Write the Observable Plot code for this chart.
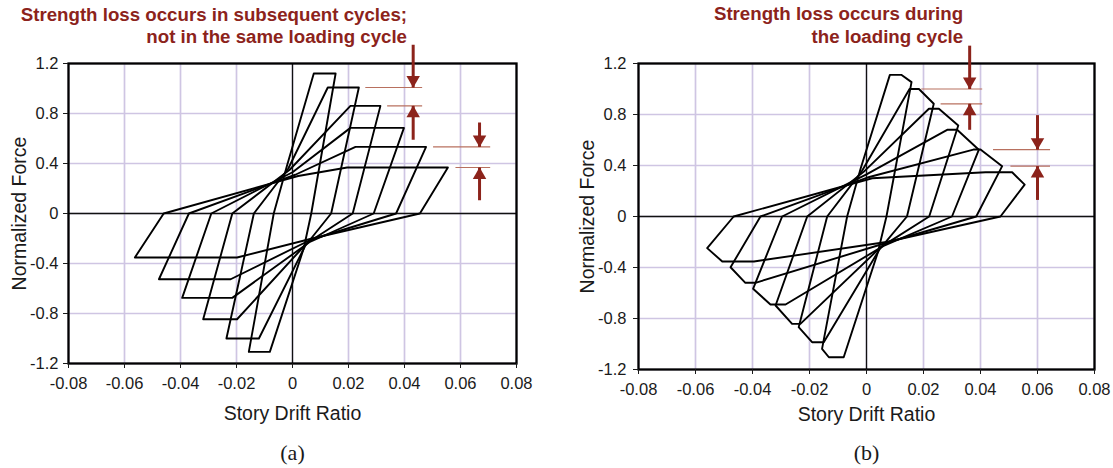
<!DOCTYPE html>
<html>
<head>
<meta charset="utf-8">
<script src="https://cdn.jsdelivr.net/npm/d3@7"></script>
<script src="https://cdn.jsdelivr.net/npm/@observablehq/plot@0.6"></script>
<style>
  body { margin: 0; background: #fff; }
  #wrap { position: relative; width: 1113px; height: 468px; overflow: hidden; background: #fff; }
  #wrap svg { position: absolute; top: 0; }
</style>
</head>
<body>
<div id="wrap"></div>
<script>
// Axis ticks shared by both panels
const xTicks = [-0.08, -0.06, -0.04, -0.02, 0, 0.02, 0.04, 0.06, 0.08];
const yTicks = [-1.2, -0.8, -0.4, 0, 0.4, 0.8, 1.2];
const cycles = [1, 2, 3, 4, 5, 6];

// (a) Cyclic strength degradation.
// Vertices of each cycle: neg. zero-force point, pinch, peak start, peak end,
// pos. zero-force point, pinch, neg. peak start, neg. peak end.
const driftA = [
  [-0.0067, -0.0020, 0.0076, 0.0154, 0.0067, 0.0040, -0.0081, -0.0156],
  [-0.0138, -0.0015, 0.0126, 0.0237, 0.0138, 0.0045, -0.0120, -0.0236],
  [-0.0215, -0.0010, 0.0207, 0.0314, 0.0215, 0.0050, -0.0198, -0.0319],
  [-0.0290,  0.0000, 0.0207, 0.0398, 0.0290, 0.0060, -0.0215, -0.0394],
  [-0.0370,  0.0010, 0.0225, 0.0477, 0.0370, 0.0065, -0.0221, -0.0477],
  [-0.0460,  0.0020, 0.0195, 0.0555, 0.0455, 0.0070, -0.0198, -0.0563]
];
const forceA = [
  [0, 0.38, 1.120, 1.120, 0, -0.28, -1.107, -1.107],
  [0, 0.36, 1.008, 1.008, 0, -0.26, -1.000, -1.000],
  [0, 0.35, 0.861, 0.861, 0, -0.24, -0.846, -0.846],
  [0, 0.33, 0.685, 0.685, 0, -0.23, -0.675, -0.675],
  [0, 0.31, 0.533, 0.533, 0, -0.21, -0.526, -0.526],
  [0, 0.30, 0.368, 0.368, 0, -0.20, -0.352, -0.352]
];

// (b) In-cycle strength degradation: the peak is followed by a falling branch.
const driftB = [
  [-0.0068, -0.0020, 0.0082, 0.0122, 0.0158, 0.0070, 0.0040, -0.0080, -0.0132, -0.0156],
  [-0.0138, -0.0015, 0.0151, 0.0184, 0.0236, 0.0142, 0.0045, -0.0150, -0.0191, -0.0238],
  [-0.0208, -0.0010, 0.0219, 0.0254, 0.0322, 0.0220, 0.0050, -0.0232, -0.0261, -0.0319],
  [-0.0296,  0.0000, 0.0283, 0.0318, 0.0394, 0.0300, 0.0060, -0.0284, -0.0337, -0.0398],
  [-0.0372,  0.0010, 0.0375, 0.0400, 0.0476, 0.0385, 0.0065, -0.0390, -0.0425, -0.0477],
  [-0.0466,  0.0020, 0.0418, 0.0511, 0.0555, 0.0470, 0.0070, -0.0395, -0.0506, -0.0559]
];
const forceB = [
  [0, 0.38, 1.111, 1.111, 1.054, 0, -0.28, -1.104, -1.104, -1.038],
  [0, 0.36, 1.000, 1.000, 0.884, 0, -0.26, -0.986, -0.986, -0.868],
  [0, 0.35, 0.845, 0.845, 0.714, 0, -0.24, -0.842, -0.842, -0.698],
  [0, 0.33, 0.680, 0.680, 0.523, 0, -0.23, -0.690, -0.690, -0.567],
  [0, 0.31, 0.525, 0.525, 0.395, 0, -0.21, -0.520, -0.520, -0.398],
  [0, 0.30, 0.347, 0.347, 0.250, 0, -0.20, -0.353, -0.353, -0.248]
];

// Strength-loss markers: level lines and arrows pointing at them
const lossLevelsA = [1.008, 0.861, 0.533, 0.368];
const lossFromA   = [0.0260, 0.0338, 0.0502, 0.0582];
const lossToA     = [0.0463, 0.0463, 0.0706, 0.0706];
const arrowXA     = [0.0431, 0.0431, 0.0668, 0.0668];
const arrowTailA  = [1.35, 0.59, 0.728, 0.106];

const lossLevelsB = [1.000, 0.884, 0.525, 0.395];
const lossFromB   = [0.0192, 0.0260, 0.0444, 0.0505];
const lossToB     = [0.0406, 0.0406, 0.0644, 0.0644];
const arrowXB     = [0.0362, 0.0362, 0.0600, 0.0600];
const arrowTailB  = [1.34, 0.68, 0.795, 0.13];

const noteA = ["Strength loss occurs in subsequent cycles;", "not in the same loading cycle"];
const noteB = ["Strength loss occurs during", "the loading cycle"];

const darkRed = "#8c231b";
const fmt = d => String(+d.toFixed(2));

function loopRows(drift, force) {
  const rows = [];
  cycles.forEach((c, k) => {
    const xs = drift[k], ys = force[k];
    for (let j = 0; j <= xs.length; j++) {
      const i = j % xs.length;
      rows.push({cycle: c, drift: xs[i], force: ys[i]});
    }
  });
  return rows;
}

function panel(o) {
  const idx = o.levels.map((_, i) => i);
  const down = idx.filter(i => o.tail[i] > o.levels[i]);
  const up = idx.filter(i => o.tail[i] < o.levels[i]);
  return Plot.plot({
    width: o.width,
    height: 468,
    marginLeft: o.mLeft,
    marginRight: o.mRight,
    marginTop: 63,
    marginBottom: o.mBottom,
    x: {domain: [-0.08, 0.08]},
    y: {domain: [-1.2, 1.2]},
    style: {fontFamily: "'Liberation Sans', Arial, sans-serif", fontSize: "16.5px", color: "#1a1a1a", background: "transparent", overflow: "visible"},
    marks: [
      Plot.gridX(xTicks, {stroke: "#cfc5e3", strokeOpacity: 1, strokeWidth: 1.7}),
      Plot.gridY(yTicks, {stroke: "#cfc5e3", strokeOpacity: 1, strokeWidth: 1.7}),
      Plot.ruleX([0], {stroke: "#111", strokeWidth: 1.3}),
      Plot.ruleY([0], {stroke: "#111", strokeWidth: 1.3}),
      Plot.line(loopRows(o.drift, o.force), {x: "drift", y: "force", z: "cycle", stroke: "#000", strokeWidth: 1.9, strokeLinejoin: "round"}),
      Plot.frame({stroke: "#000", strokeWidth: 2.3}),
      Plot.axisX(xTicks, {tickSize: 5, tickPadding: 9, tickFormat: fmt, label: null}),
      Plot.axisY(yTicks, {tickSize: 5, tickPadding: o.yPad, tickFormat: fmt, label: null}),
      Plot.text(["Story Drift Ratio"], {x: 0, frameAnchor: "bottom", lineAnchor: "middle", dy: o.titleDy, fontSize: 19.5}),
      Plot.text(["Normalized Force"], {y: 0, frameAnchor: "left", textAnchor: "middle", lineAnchor: "middle", dx: o.yTitleDx, rotate: -90, fontSize: 19.5}),
      Plot.text([o.caption], {x: 0, frameAnchor: "bottom", lineAnchor: "middle", dy: o.captionDy, fontSize: 22, fontFamily: "'Liberation Serif', 'DejaVu Serif', serif"}),
      Plot.text(o.note, {x: o.noteX, y: (d, i) => 1.59 - i * 0.18, textAnchor: "end", lineAnchor: "middle", fontWeight: "bold", fontSize: 18.7, fill: darkRed}),
      Plot.link(idx, {x1: i => o.from[i], x2: i => o.to[i], y1: i => o.levels[i], y2: i => o.levels[i], stroke: "#b8705f", strokeWidth: 1.2}),
      Plot.link(idx, {x1: i => o.arrowX[i], x2: i => o.arrowX[i], y1: i => o.tail[i], y2: i => o.levels[i], stroke: darkRed, strokeWidth: 3}),
      Plot.dot(down, {x: i => o.arrowX[i], y: i => o.levels[i], symbol: "triangle", r: 5, fill: darkRed, stroke: "none", rotate: 180, dy: -7.5}),
      Plot.dot(up, {x: i => o.arrowX[i], y: i => o.levels[i], symbol: "triangle", r: 5, fill: darkRed, stroke: "none", dy: 7.5})
    ]
  });
}

const wrap = document.getElementById("wrap");

const svgA = panel({
  drift: driftA, force: forceA,
  levels: lossLevelsA, from: lossFromA, to: lossToA, arrowX: arrowXA, tail: arrowTailA,
  note: noteA, noteX: 0.0409, caption: "(a)",
  width: 556, mLeft: 68, mRight: 40, mBottom: 105, yPad: 5,
  titleDy: 50, captionDy: 89, yTitleDx: -49
});
svgA.style.left = "0px";
wrap.appendChild(svgA);

const svgB = panel({
  drift: driftB, force: forceB,
  levels: lossLevelsB, from: lossFromB, to: lossToB, arrowX: arrowXB, tail: arrowTailB,
  note: noteB, noteX: 0.0339, caption: "(b)",
  width: 557, mLeft: 82, mRight: 19, mBottom: 99, yPad: 7,
  titleDy: 45, captionDy: 83, yTitleDx: -51
});
svgB.style.left = "556px";
wrap.appendChild(svgB);
</script>
</body>
</html>
